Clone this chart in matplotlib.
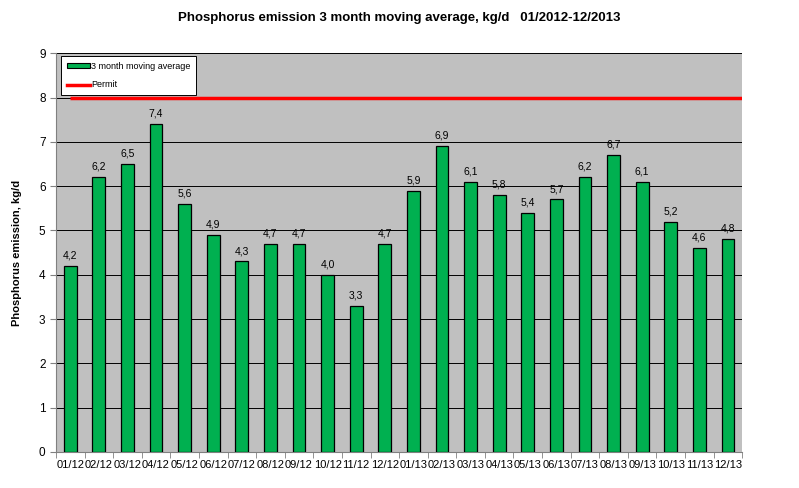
import matplotlib
matplotlib.use("Agg")
import matplotlib.pyplot as plt
from matplotlib.lines import Line2D
from matplotlib.patches import Patch

plt.rcParams['font.family'] = ['Liberation Sans', 'DejaVu Sans']

months = ["01/12", "02/12", "03/12", "04/12", "05/12", "06/12", "07/12", "08/12",
          "09/12", "10/12", "11/12", "12/12", "01/13", "02/13", "03/13", "04/13",
          "05/13", "06/13", "07/13", "08/13", "09/13", "10/13", "11/13", "12/13"]
moving_avg = [4.2, 6.2, 6.5, 7.4, 5.6, 4.9, 4.3, 4.7, 4.7, 4.0, 3.3, 4.7,
              5.9, 6.9, 6.1, 5.8, 5.4, 5.7, 6.2, 6.7, 6.1, 5.2, 4.6, 4.8]
permit = 8

fig = plt.figure(figsize=(7.99, 4.88), dpi=100)
ax = fig.add_axes([0.070, 0.0738, 0.859, 0.8172])
ax.set_facecolor('#C0C0C0')

x = list(range(len(months)))
ax.bar(x, moving_avg, width=0.45, color='#00B050', edgecolor='black', linewidth=0.9, zorder=3)
for xi, v in zip(x, moving_avg):
    ax.text(xi, v + 0.12, f"{v:.1f}".replace('.', ','), ha='center', va='bottom', fontsize=7.5, zorder=4)

ax.hlines(permit, 0, len(months) - 0.5, color='#FF0000', linewidth=2.5, zorder=4)

ax.set_xlim(-0.5, len(months) - 0.5)
ax.set_ylim(0, 9)
ax.set_yticks(range(0, 10))
ax.yaxis.grid(True, color='black', linewidth=0.7, zorder=1)
ax.set_axisbelow(True)
ax.set_xticks(x)
ax.set_xticklabels(months, fontsize=8)
ax.set_xticks([i - 0.5 for i in range(len(months) + 1)], minor=True)
ax.tick_params(axis='x', which='major', length=0, pad=6)
ax.tick_params(axis='x', which='minor', length=4, direction='out', color='#808080')
ax.tick_params(axis='y', labelsize=8.5, length=4, direction='out', color='#808080')
for s in ['top', 'right']:
    ax.spines[s].set_visible(False)
ax.spines['left'].set_color('#808080')
ax.spines['bottom'].set_color('#808080')

ax.set_ylabel("Phosphorus emission, kg/d", fontsize=8, fontweight='bold', labelpad=12)
fig.suptitle("Phosphorus emission 3 month moving average, kg/d   01/2012-12/2013",
             fontsize=9.5, fontweight='bold', x=0.5, y=0.975)

handles = [Patch(facecolor='#00B050', edgecolor='black', linewidth=0.8),
           Line2D([0], [0], color='#FF0000', linewidth=2.5)]
leg = ax.legend(handles, ["3 month moving average", "Permit"], loc='upper left',
                bbox_to_anchor=(0.008, 0.993), fontsize=6.5, frameon=True, fancybox=False,
                edgecolor='black', framealpha=1, handlelength=2.5, handleheight=0.45,
                handletextpad=0.15, labelspacing=1.05, borderpad=0.65, borderaxespad=0.0)
leg.get_frame().set_linewidth(0.7)
leg.set_zorder(5)

fig.savefig("out.png", dpi=100)
